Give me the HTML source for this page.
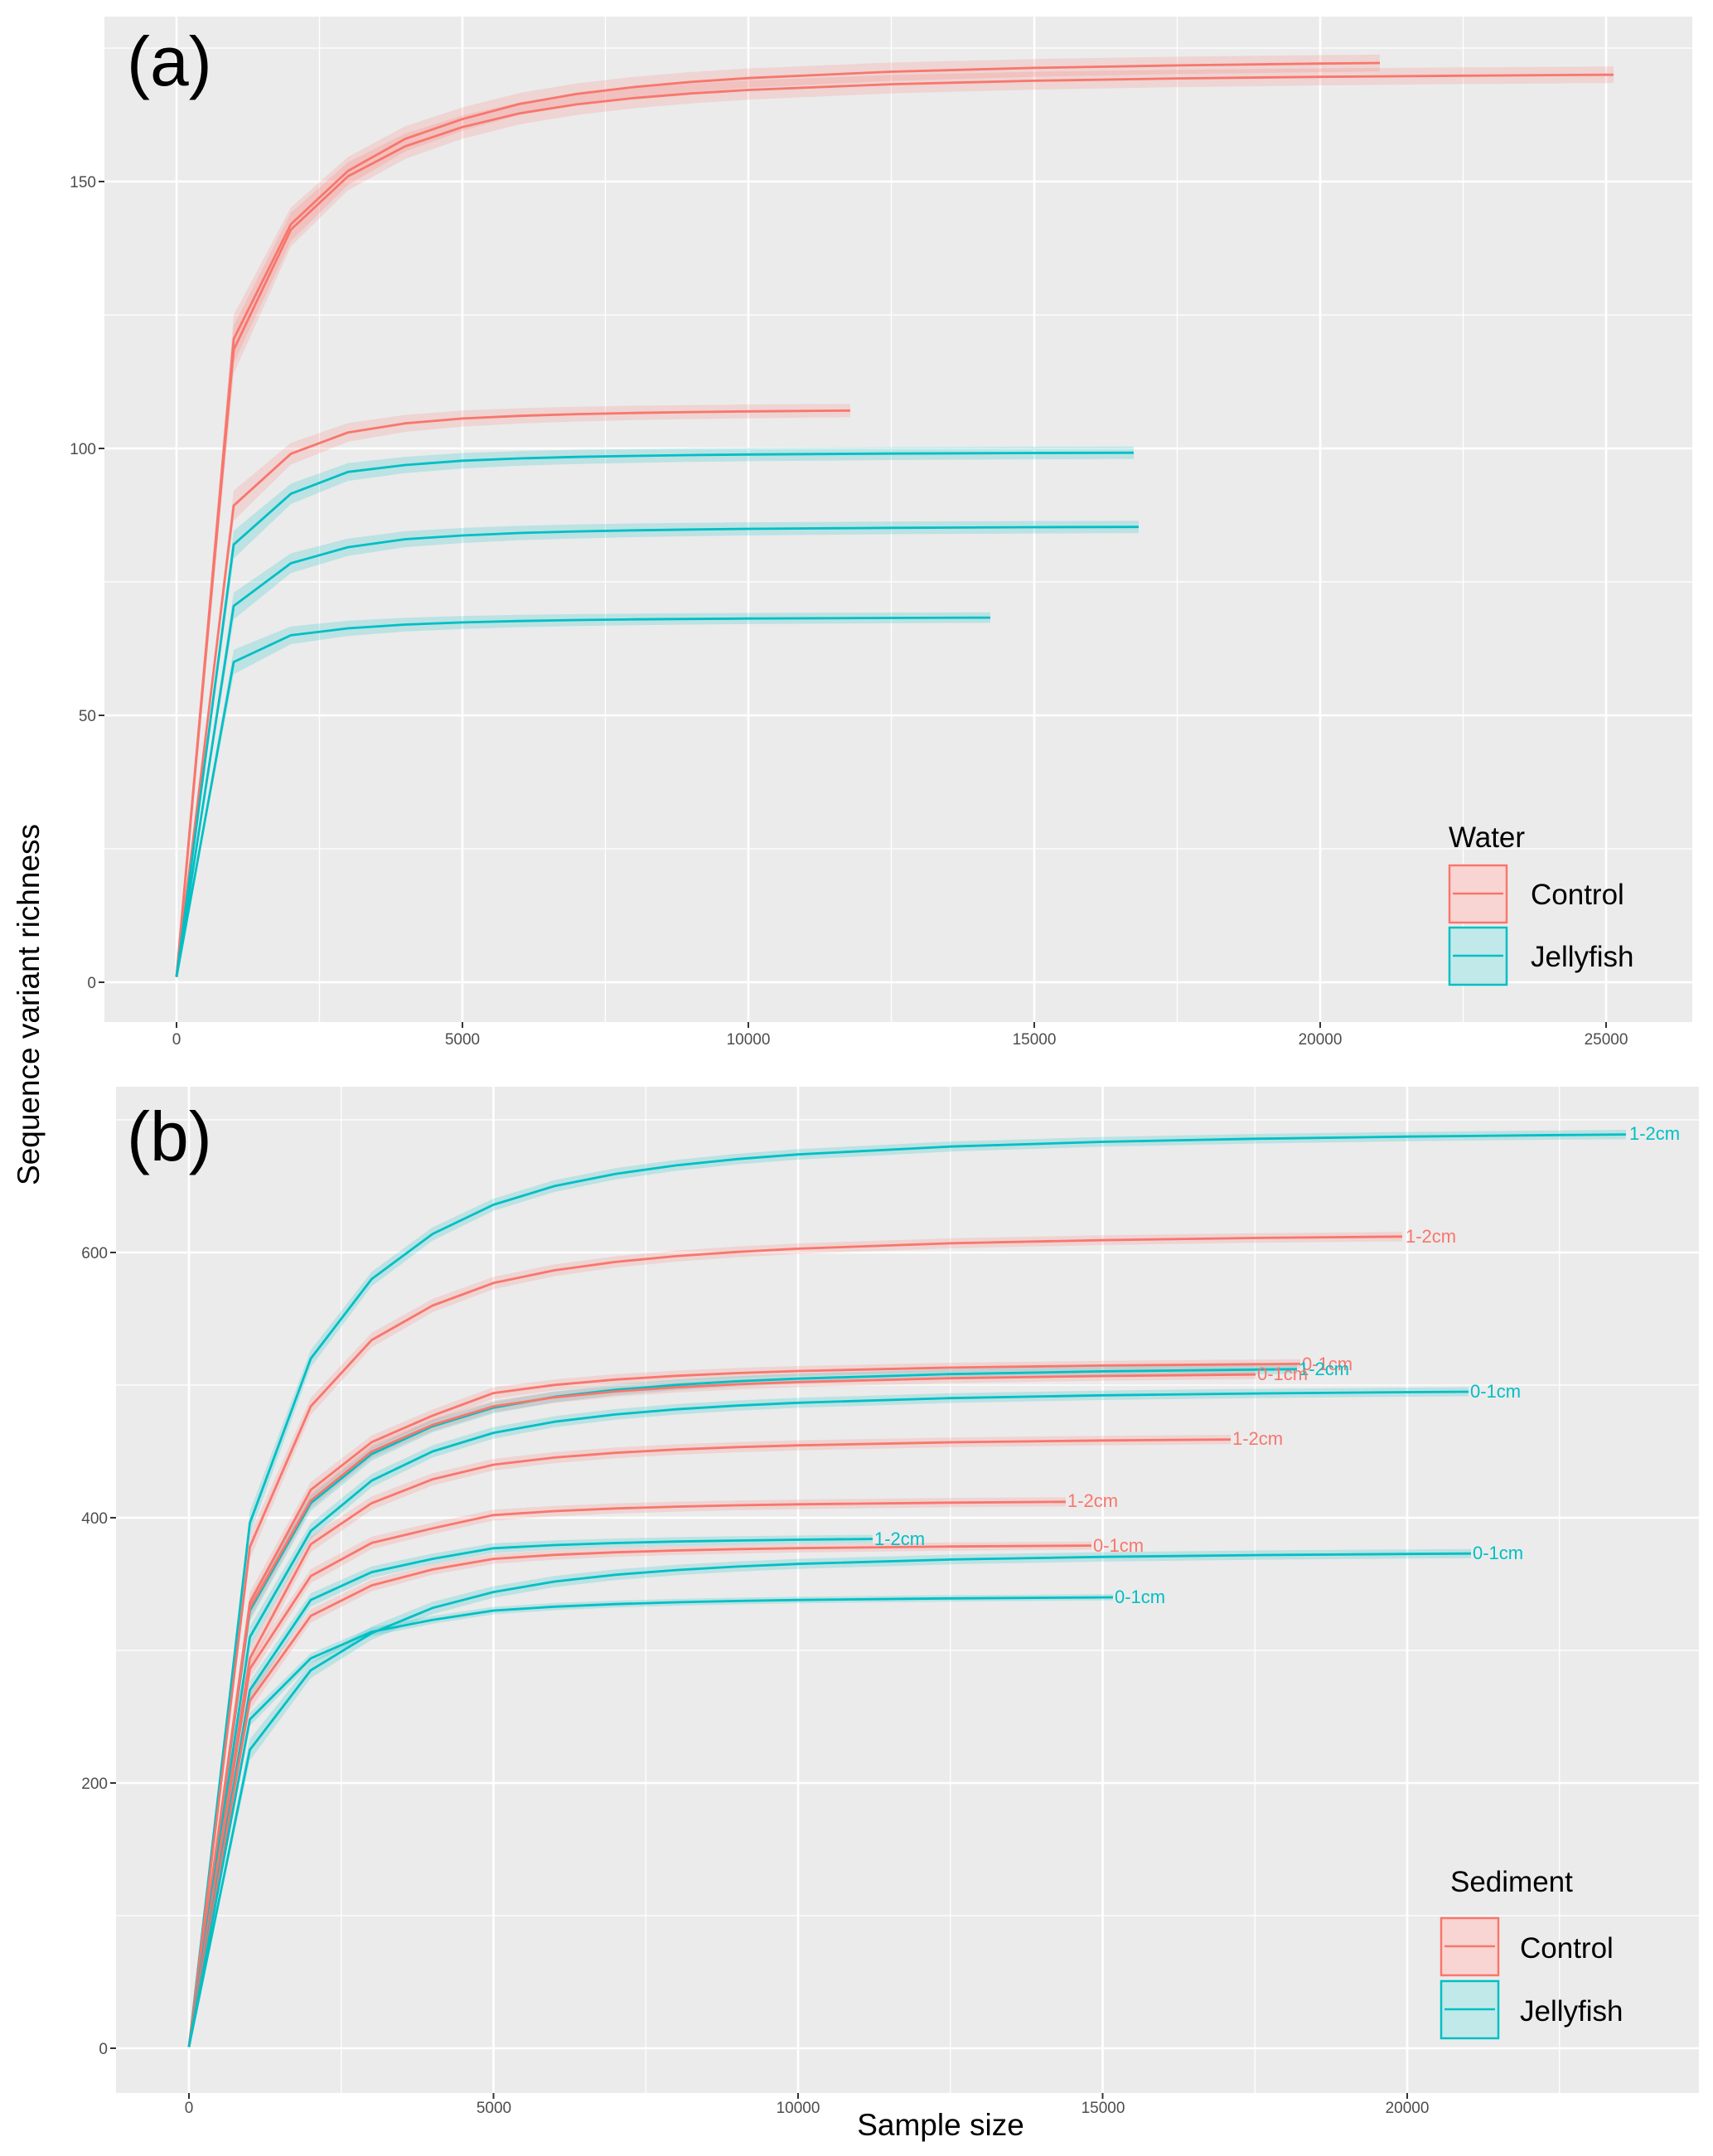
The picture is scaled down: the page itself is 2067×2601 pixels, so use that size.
<!DOCTYPE html>
<html><head><meta charset="utf-8"><style>
html,body{margin:0;padding:0;background:#fff;}
svg{display:block;font-family:"Liberation Sans",sans-serif;}
</style></head><body>
<svg id="s" width="2067" height="2601" viewBox="0 0 2067 2601" xmlns="http://www.w3.org/2000/svg">
<rect width="2067" height="2601" fill="#fff"/>
<rect x="126" y="20" width="1916" height="1213" fill="#EBEBEB"/>
<rect x="140" y="1311" width="1910" height="1214" fill="#EBEBEB"/>
<g id="grid"></g>
<g id="series"></g>
<g id="ticks" stroke="#333" stroke-width="2"></g>
<g font-size="19" fill="#4D4D4D">
<text x="116" y="226" text-anchor="end">150</text>
<text x="116" y="548" text-anchor="end">100</text>
<text x="116" y="870" text-anchor="end">50</text>
<text x="116" y="1192" text-anchor="end">0</text>
<text x="213" y="1260" text-anchor="middle">0</text>
<text x="558" y="1260" text-anchor="middle">5000</text>
<text x="903" y="1260" text-anchor="middle">10000</text>
<text x="1248" y="1260" text-anchor="middle">15000</text>
<text x="1593" y="1260" text-anchor="middle">20000</text>
<text x="1938" y="1260" text-anchor="middle">25000</text>
<text x="130" y="1518" text-anchor="end">600</text>
<text x="130" y="1838" text-anchor="end">400</text>
<text x="130" y="2158" text-anchor="end">200</text>
<text x="130" y="2478" text-anchor="end">0</text>
<text x="228" y="2549" text-anchor="middle">0</text>
<text x="596" y="2549" text-anchor="middle">5000</text>
<text x="963" y="2549" text-anchor="middle">10000</text>
<text x="1331" y="2549" text-anchor="middle">15000</text>
<text x="1698" y="2549" text-anchor="middle">20000</text>
</g>
<g font-size="22">
<text x="1966" y="1375" fill="#00BFC4">1-2cm</text>
<text x="1696" y="1499" fill="#F8766D">1-2cm</text>
<text x="1571" y="1653" fill="#F8766D">0-1cm</text>
<text x="1567" y="1659" fill="#00BFC4">1-2cm</text>
<text x="1517" y="1665" fill="#F8766D">0-1cm</text>
<text x="1774" y="1686" fill="#00BFC4">0-1cm</text>
<text x="1487" y="1743" fill="#F8766D">1-2cm</text>
<text x="1288" y="1818" fill="#F8766D">1-2cm</text>
<text x="1055" y="1864" fill="#00BFC4">1-2cm</text>
<text x="1319" y="1872" fill="#F8766D">0-1cm</text>
<text x="1777" y="1881" fill="#00BFC4">0-1cm</text>
<text x="1345" y="1934" fill="#00BFC4">0-1cm</text>
</g>
<text x="153" y="103" font-size="84">(a)</text>
<text x="153" y="1400" font-size="84">(b)</text>
<text transform="translate(47,1212) rotate(-90)" font-size="37" text-anchor="middle">Sequence variant richness</text>
<text x="1135" y="2576" font-size="37" text-anchor="middle">Sample size</text>
<!-- legend a -->
<text x="1748" y="1022" font-size="35">Water</text>
<rect x="1749" y="1044" width="69" height="69" fill="#F8D5D3" stroke="#F8766D" stroke-width="2.5"/>
<line x1="1753" y1="1078" x2="1814" y2="1078" stroke="#F8766D" stroke-width="2.5"/>
<rect x="1749" y="1119" width="69" height="69" fill="#C2E9EA" stroke="#00BFC4" stroke-width="2.5"/>
<line x1="1753" y1="1153" x2="1814" y2="1153" stroke="#00BFC4" stroke-width="2.5"/>
<text x="1847" y="1091" font-size="35">Control</text>
<text x="1847" y="1166" font-size="35">Jellyfish</text>
<!-- legend b -->
<text x="1750" y="2282" font-size="35">Sediment</text>
<rect x="1739" y="2314" width="69" height="69" fill="#F8D5D3" stroke="#F8766D" stroke-width="2.5"/>
<line x1="1743" y1="2348" x2="1804" y2="2348" stroke="#F8766D" stroke-width="2.5"/>
<rect x="1739" y="2390" width="69" height="69" fill="#C2E9EA" stroke="#00BFC4" stroke-width="2.5"/>
<line x1="1743" y1="2424" x2="1804" y2="2424" stroke="#00BFC4" stroke-width="2.5"/>
<text x="1834" y="2362" font-size="35">Control</text>
<text x="1834" y="2438" font-size="35">Jellyfish</text>
</svg>
<script>
(function(){
var NS="http://www.w3.org/2000/svg";
function el(p,t,a){var e=document.createElementNS(NS,t);for(var k in a)e.setAttribute(k,a[k]);p.appendChild(e);return e;}
var grid=document.getElementById('grid'),ser=document.getElementById('series'),tk=document.getElementById('ticks');
var R="#F8766D",T="#00BFC4";
var A={x0:213,kx:0.069,y0:1185,ky:6.44,L:126,Rr:2042,Tp:20,B:1233};
var Bp={x0:228,kx:0.0735,y0:2471,ky:1.6,L:140,Rr:2050,Tp:1311,B:2525};
function gridFor(P,xmaj,xmin,ymaj,ymin){
 xmin.forEach(function(v){var x=P.x0+v*P.kx;el(grid,'line',{x1:x,x2:x,y1:P.Tp,y2:P.B,stroke:'#fff','stroke-width':1.3});});
 ymin.forEach(function(v){var y=P.y0-v*P.ky;el(grid,'line',{x1:P.L,x2:P.Rr,y1:y,y2:y,stroke:'#fff','stroke-width':1.3});});
 xmaj.forEach(function(v){var x=P.x0+v*P.kx;el(grid,'line',{x1:x,x2:x,y1:P.Tp,y2:P.B,stroke:'#fff','stroke-width':2.6});
   el(tk,'line',{x1:x,x2:x,y1:P.B,y2:P.B+7});});
 ymaj.forEach(function(v){var y=P.y0-v*P.ky;el(grid,'line',{x1:P.L,x2:P.Rr,y1:y,y2:y,stroke:'#fff','stroke-width':2.6});
   el(tk,'line',{x1:P.L-7,x2:P.L,y1:y,y2:y});});
}
gridFor(A,[0,5000,10000,15000,20000,25000],[2500,7500,12500,17500,22500],[0,50,100,150],[25,75,125,175]);
gridFor(Bp,[0,5000,10000,15000,20000],[2500,7500,12500,17500,22500],[0,200,400,600],[100,300,500,700]);
function series(P,col,vals,endPx,endV,h1,hE){
 var endN=(endPx-P.x0)/P.kx;
 var pts=[[0,1]];
 vals.forEach(function(v,i){pts.push([1000*(i+1),v]);});
 var nl=1000*vals.length,yl=vals[vals.length-1];
 var r=Math.pow(nl/endN,1.5);var S=(endV-yl*r)/(1-r);
 var ns=[];for(var n=nl+1000;n<endN;n+=(n<10000?1000:2500))ns.push(n);
 ns.forEach(function(n){pts.push([n,S-(S-yl)*Math.pow(nl/n,1.5)]);});
 pts.push([endN,endV]);
 function h(n){return n<1000?h1*n/1000:hE+(h1-hE)*Math.pow(1000/n,0.8);}
 var up=[],lo=[],ln=[];
 pts.forEach(function(p){var x=P.x0+p[0]*P.kx;
  up.push(x.toFixed(1)+','+(P.y0-(p[1]+h(p[0]))*P.ky).toFixed(1));
  lo.unshift(x.toFixed(1)+','+(P.y0-(p[1]-h(p[0]))*P.ky).toFixed(1));
  ln.push(x.toFixed(1)+','+(P.y0-p[1]*P.ky).toFixed(1));});
 el(ser,'polygon',{points:up.concat(lo).join(' '),fill:col,'fill-opacity':0.2,stroke:'none'});
 return function(){el(ser,'polyline',{points:ln.join(' '),fill:'none',stroke:col,'stroke-width':2.8,'stroke-linejoin':'round'});};
}
var L=[];
// panel a
L.push(series(A,R,[120.5,142,152,158,161.7],1665,172.2,4.5,1.3));
L.push(series(A,R,[118.5,141,151,156.6,160.2],1947,170,4.5,1.3));
L.push(series(A,R,[89.3,99,103,104.7,105.6],1026,107.1,2.8,1));
L.push(series(A,T,[82,91.5,95.6,96.9,97.7],1368,99.2,2.6,1));
L.push(series(A,T,[70.5,78.5,81.5,83,83.7],1374,85.3,2.5,1));
L.push(series(A,T,[60,65,66.3,67,67.4],1195,68.3,2.3,0.8));
// panel b
L.push(series(Bp,T,[396,520,580,614,636],1962,689,9,3));
L.push(series(Bp,R,[378,484,534,560,577],1692,612,9,3));
L.push(series(Bp,R,[336,421,457,477,494],1569,516,8,3));
L.push(series(Bp,T,[330,411,448,469,483],1565,512,8,3));
L.push(series(Bp,R,[332,413,450,470,484],1515,508,8,3));
L.push(series(Bp,T,[310,390,428,450,464],1772,495,8,3));
L.push(series(Bp,R,[294,380,411,429,440],1485,459,8,3));
L.push(series(Bp,R,[286,356,381,392,402],1286,412,7,3));
L.push(series(Bp,T,[270,338,359,369,377],1053,384,7,2.5));
L.push(series(Bp,R,[262,326,349,361,369],1317,379,7,2.5));
L.push(series(Bp,T,[225,285,313,332,344],1775,373,8,3));
L.push(series(Bp,T,[248,294,314,323,330],1343,340,5,2));
L.forEach(function(f){f();});
})();
</script>
</body></html>
